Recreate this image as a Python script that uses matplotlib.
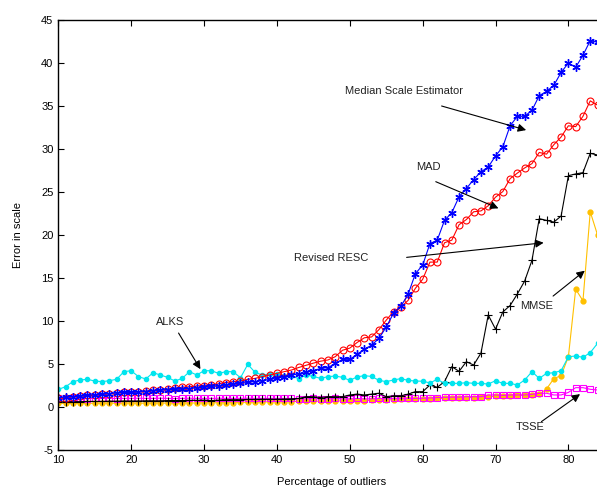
import numpy as np
import matplotlib
matplotlib.use("Agg")
import matplotlib.pyplot as plt

plt.rcParams['font.family'] = ['Liberation Sans', 'DejaVu Sans']
plt.rcParams['axes.unicode_minus'] = False

# percentage of outliers, one sample per percent
outlier_pct = np.arange(10, 85)

median_scale = [1.1, 1.15, 1.2, 1.25, 1.35, 1.4, 1.5, 1.55, 1.65, 1.7,
                1.7, 1.75, 1.8, 1.9, 1.95, 2.0, 2.05, 2.1, 2.15, 2.25,
                2.3, 2.4, 2.45, 2.55, 2.67, 2.75, 2.87, 2.95, 3.06, 3.22,
                3.33, 3.53, 3.72, 3.84, 4.03, 4.22, 4.5, 4.57, 5.07, 5.54,
                5.54, 6.12, 6.71, 7.2, 7.98, 9.3, 10.9, 11.7, 13.1, 15.5,
                16.5, 19.0, 19.4, 21.7, 22.6, 24.45, 25.4, 26.45, 27.35, 27.9,
                29.2, 30.25, 32.7, 33.8, 33.8, 34.5, 36.2, 36.7, 37.4, 38.9,
                40.0, 39.5, 40.9, 42.6, 42.4]

mad = [1.0, 1.1, 1.2, 1.3, 1.35, 1.4, 1.5, 1.55, 1.65, 1.7,
       1.7, 1.8, 1.85, 1.95, 2.0, 2.1, 2.2, 2.3, 2.35, 2.45,
       2.5, 2.6, 2.7, 2.85, 2.95, 3.02, 3.22, 3.33, 3.53, 3.72,
       3.91, 4.11, 4.3, 4.6, 4.85, 5.1, 5.33, 5.47, 5.85, 6.6,
       6.85, 7.5, 8.05, 8.15, 9.0, 10.1, 11.1, 11.6, 12.4, 13.8,
       14.85, 16.85, 16.85, 19.1, 19.4, 21.2, 21.8, 22.7, 22.8, 23.4,
       24.4, 25.05, 26.55, 27.2, 27.8, 28.3, 29.6, 29.4, 30.5, 31.4,
       32.7, 32.6, 33.8, 35.6, 35.1]

revised_resc = [0.6, 0.6, 0.62, 0.62, 0.65, 0.65, 0.65, 0.68, 0.68, 0.7,
                0.7, 0.7, 0.72, 0.72, 0.72, 0.75, 0.75, 0.75, 0.78, 0.78,
                0.8, 0.75, 0.8, 0.85, 0.85, 0.85, 0.88, 0.88, 0.9, 0.9,
                0.9, 0.92, 0.95, 1.0, 1.2, 1.2, 1.1, 1.2, 1.2, 1.2,
                1.4, 1.5, 1.4, 1.5, 1.6, 1.2, 1.3, 1.3, 1.5, 1.78,
                1.78, 2.56, 2.29, 2.95, 4.69, 4.15, 5.27, 4.88, 6.27, 10.7,
                9.05, 11.05, 11.8, 13.15, 14.65, 17.05, 21.9, 21.7, 21.5, 22.2,
                26.9, 27.1, 27.25, 29.5, 29.3]

alks = [2.05, 2.36, 2.95, 3.14, 3.22, 3.02, 2.95, 3.06, 3.22, 4.11,
        4.22, 3.53, 3.26, 3.99, 3.72, 3.45, 3.02, 3.33, 4.11, 3.72,
        4.22, 4.22, 3.91, 4.11, 4.11, 3.4, 4.96, 4.03, 3.72, 3.84,
        3.8, 3.64, 3.6, 3.3, 3.72, 3.55, 3.33, 3.53, 3.6, 3.45,
        3.1, 3.5, 3.65, 3.55, 3.1, 2.95, 3.14, 3.3, 3.1, 3.02,
        3.0, 2.8, 3.22, 2.75, 2.75, 2.75, 2.83, 2.75, 2.75, 2.67,
        3.06, 2.75, 2.75, 2.56, 3.14, 4.11, 3.33, 3.91, 3.99, 4.22,
        5.85, 5.93, 5.78, 6.32, 7.4]

mmse = [0.45, 0.42, 0.45, 0.43, 0.45, 0.42, 0.45, 0.43, 0.45, 0.44,
        0.45, 0.43, 0.45, 0.44, 0.46, 0.45, 0.47, 0.45, 0.48, 0.46,
        0.5, 0.48, 0.5, 0.5, 0.52, 0.55, 0.55, 0.58, 0.58, 0.6,
        0.62, 0.62, 0.63, 0.65, 0.65, 0.66, 0.68, 0.7, 0.7, 0.72,
        0.72, 0.74, 0.75, 0.78, 0.8, 0.82, 0.85, 0.9, 0.93, 0.95,
        0.95, 0.97, 1.0, 1.0, 1.02, 1.05, 1.1, 1.1, 1.15, 1.2,
        1.25, 1.3, 1.3, 1.35, 1.4, 1.45, 1.5, 2.1, 3.3, 3.65,
        5.85, 13.7, 12.35, 22.7, 20.0]

tsse = [1.0, 0.95, 1.0, 1.02, 0.98, 1.0, 1.0, 1.02, 0.98, 1.0,
        1.0, 1.02, 1.0, 1.0, 1.02, 1.0, 0.98, 1.0, 1.02, 1.0,
        1.0, 1.0, 1.02, 1.0, 1.0, 1.0, 1.02, 1.0, 1.0, 1.0,
        1.0, 1.0, 1.0, 0.95, 0.95, 1.0, 0.95, 0.95, 1.0, 0.95,
        0.95, 1.0, 0.95, 0.95, 1.0, 0.95, 1.0, 1.0, 1.0, 1.0,
        1.02, 1.05, 1.1, 1.13, 1.15, 1.15, 1.2, 1.2, 1.2, 1.4,
        1.4, 1.35, 1.4, 1.4, 1.4, 1.47, 1.6, 1.6, 1.4, 1.4,
        1.7, 2.25, 2.25, 2.06, 1.98]

fig = plt.figure(figsize=(5.97, 4.90), dpi=100)
# axes run slightly past the right edge of the figure
ax = fig.add_axes([0.0977, 0.0816, 0.9154, 0.8776])

lw = 0.8
ax.plot(outlier_pct, mmse, color='#FFC000', lw=lw, marker='o', ms=3.5,
        mfc='#FFC000', mec='#FFC000')
ax.plot(outlier_pct, tsse, color='#FF00FF', lw=lw, marker='s', ms=4,
        mfc='none', mec='#FF00FF', mew=0.8)
ax.plot(outlier_pct, revised_resc, color='black', lw=lw, marker='+', ms=6,
        mew=0.8)
ax.plot(outlier_pct, alks, color='#00E5EE', lw=lw, marker='o', ms=3,
        mfc='#00E5EE', mec='#00E5EE')
ax.plot(outlier_pct, mad, color='#FF0000', lw=lw, marker='o', ms=5,
        mfc='none', mec='#FF0000', mew=0.8)
# MATLAB-style asterisk marker
ax.plot(outlier_pct, median_scale, color='#0000FF', lw=lw, marker=(6, 2, 0),
        ms=6, mec='#0000FF', mew=1.0)

ax.set_xlim(10, 85)
ax.set_ylim(-5, 45)
ax.set_xticks(np.arange(10, 90, 10))
ax.set_yticks(np.arange(-5, 50, 5))
ax.tick_params(direction='in', length=4, width=0.8, labelsize=8,
               top=True, right=True)
for s in ax.spines.values():
    s.set_linewidth(1.0)

ax.set_xlabel('Percentage of outliers', fontsize=8, labelpad=9)
ax.set_ylabel('Error in scale', fontsize=8, labelpad=13)

arrow = dict(arrowstyle='-|>', color='black', lw=0.8, mutation_scale=12,
             shrinkA=0, shrinkB=0)
notes = [
    ('Median Scale Estimator', (57.45, 36.8), (62.6, 35.0), (74.2, 32.2)),
    ('MAD', (60.8, 27.9), (61.8, 26.2), (70.4, 23.1)),
    ('Revised RESC', (47.5, 17.3), (57.8, 17.4), (76.6, 19.1)),
    ('MMSE', (75.7, 11.7), (77.9, 12.9), (82.25, 15.85)),
    ('TSSE', (74.7, -2.3), (76.3, -1.7), (81.6, 1.5)),
    ('ALKS', (25.3, 9.9), (26.5, 8.6), (29.5, 4.4)),
]
for label, pos, tail, head in notes:
    ax.text(pos[0], pos[1], label, fontsize=8, ha='center', va='center',
            color='#222222')
    ax.annotate('', xy=head, xytext=tail, arrowprops=arrow)

fig.savefig('out.png', dpi=100)
